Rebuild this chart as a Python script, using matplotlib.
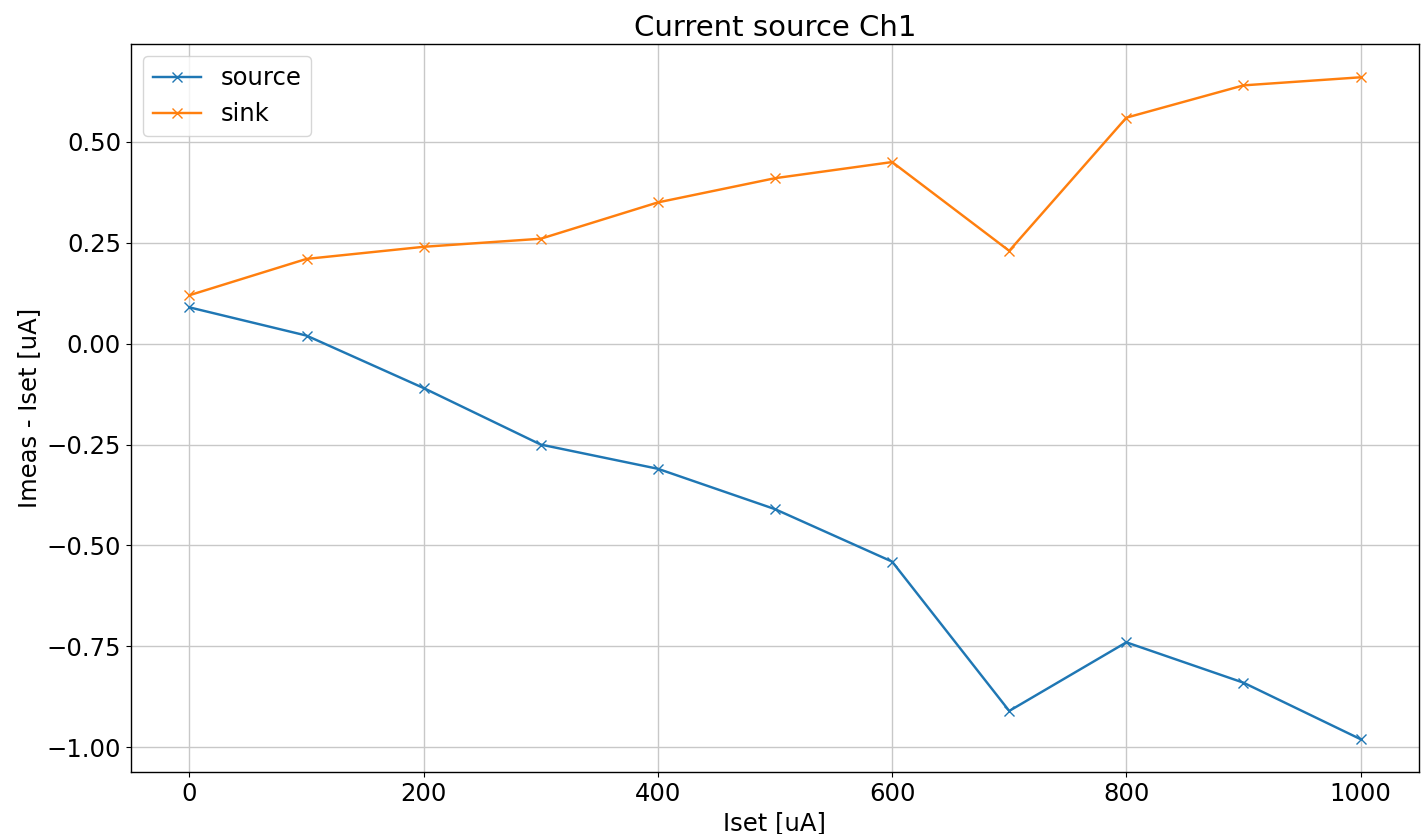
import numpy as np
import matplotlib
matplotlib.use("Agg")
import matplotlib.pyplot as plt

iset = [0, 100, 200, 300, 400, 500, 600, 700, 800, 900, 1000]
source = [0.09, 0.02, -0.11, -0.25, -0.31, -0.41, -0.54, -0.91, -0.74, -0.84, -0.98]
sink = [0.12, 0.21, 0.24, 0.26, 0.35, 0.41, 0.45, 0.23, 0.56, 0.64, 0.66]

plt.rcParams['font.size'] = 17.5
plt.rcParams['lines.linewidth'] = 1.75
plt.rcParams['lines.markersize'] = 7
plt.rcParams['axes.linewidth'] = 1.0
plt.rcParams['grid.linewidth'] = 1.0
plt.rcParams['grid.color'] = '#c8c8c8'

fig, ax = plt.subplots(figsize=(14.22, 8.34), dpi=100)
fig.subplots_adjust(left=0.092, right=0.998, top=0.947, bottom=0.074)

ax.plot(iset, source, marker='x', label="source")
ax.plot(iset, sink, marker='x', label="sink")

ax.set_title('Current source Ch1')
ax.set_xlabel('Iset [uA]')
ax.set_ylabel('Imeas - Iset [uA]')
ax.grid(True)
ax.legend(loc='upper left')

fig.savefig("out.png")
